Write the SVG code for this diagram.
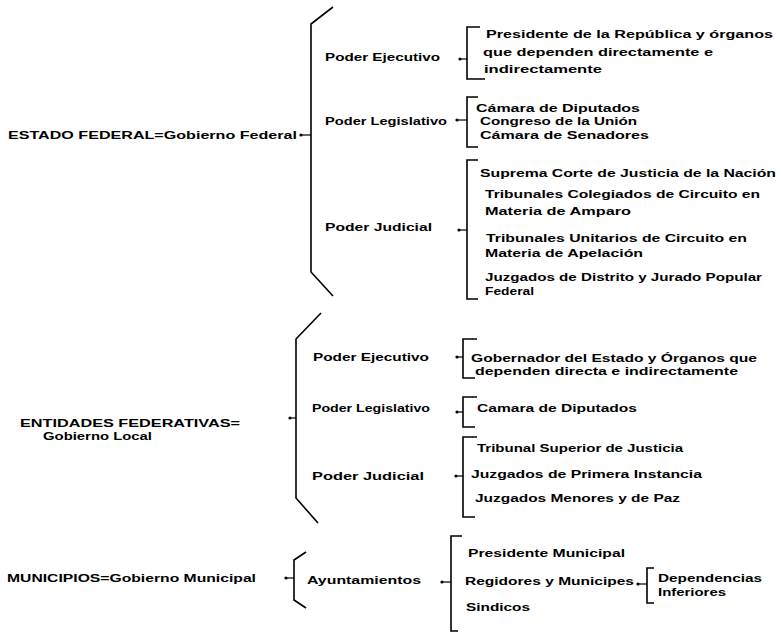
<svg xmlns="http://www.w3.org/2000/svg" width="781" height="635" viewBox="0 0 781 635">
<style>
text{font-family:"Liberation Sans",Arial,sans-serif;font-size:11px;font-weight:bold;fill:#000;}
.br{fill:none;stroke:#000;stroke-width:1.6;stroke-linejoin:miter;}
.ar{stroke:#000;stroke-width:1.2;}
.dot{fill:#000;}
</style>
<rect width="781" height="635" fill="#fff"/>
<g id="connectors">
  <!-- Estado Federal -->
  <polyline class="br" points="333,7 311,24 311,272 333,296"/>
  <line class="ar" x1="301" y1="135" x2="311" y2="135"/><circle class="dot" cx="301" cy="135" r="1.6"/>
  <polyline class="br" points="480,27 467,27 467,79 485,79"/>
  <line class="ar" x1="460" y1="59" x2="467" y2="59"/><circle class="dot" cx="460" cy="59" r="1.6"/>
  <polyline class="br" points="478,97 467,97 467,147 478,147"/>
  <line class="ar" x1="457" y1="120" x2="467" y2="120"/><circle class="dot" cx="457" cy="120" r="1.6"/>
  <polyline class="br" points="478,160 467,160 467,299 478,299"/>
  <line class="ar" x1="459" y1="230" x2="467" y2="230"/><circle class="dot" cx="459" cy="230" r="1.6"/>
  <!-- Entidades -->
  <polyline class="br" points="321,313 296,339 296,498 318,523"/>
  <line class="ar" x1="290" y1="418" x2="296" y2="418"/><circle class="dot" cx="290" cy="418" r="1.6"/>
  <polyline class="br" points="477,339 463,339 463,378 475,378"/>
  <line class="ar" x1="457" y1="357" x2="463" y2="357"/><circle class="dot" cx="457" cy="357" r="1.6"/>
  <polyline class="br" points="477,397 463,397 463,427 475,427"/>
  <line class="ar" x1="457" y1="412" x2="463" y2="412"/><circle class="dot" cx="457" cy="412" r="1.6"/>
  <polyline class="br" points="477,437 463,437 463,517 475,517"/>
  <line class="ar" x1="456" y1="476" x2="463" y2="476"/><circle class="dot" cx="456" cy="476" r="1.6"/>
  <!-- Municipios -->
  <polyline class="br" points="306,552 294,560 294,600 306,608"/>
  <line class="ar" x1="286" y1="578" x2="294" y2="578"/><circle class="dot" cx="286" cy="578" r="1.6"/>
  <polyline class="br" points="462,536 451,536 451,631 458,631"/>
  <line class="ar" x1="442" y1="582" x2="451" y2="582"/><circle class="dot" cx="442" cy="582" r="1.6"/>
  <polyline class="br" points="654,568 647,568 647,603 654,603"/>
  <line class="ar" x1="638" y1="584" x2="647" y2="584"/><circle class="dot" cx="638" cy="584" r="1.6"/>
</g>
<g id="estado-federal"><text x="8" y="139" textLength="289" lengthAdjust="spacingAndGlyphs">ESTADO FEDERAL=Gobierno Federal</text></g>
<g id="fed-ejecutivo"><text x="325" y="61" textLength="115" lengthAdjust="spacingAndGlyphs">Poder Ejecutivo</text></g>
<g id="fed-legislativo"><text x="325" y="125" textLength="122" lengthAdjust="spacingAndGlyphs">Poder Legislativo</text></g>
<g id="fed-judicial"><text x="325" y="231" textLength="107" lengthAdjust="spacingAndGlyphs">Poder  Judicial</text></g>
<g id="fed-ejecutivo-items">
  <text x="486" y="38" textLength="287" lengthAdjust="spacingAndGlyphs">Presidente de la República y órganos</text>
  <text x="483" y="56" textLength="230" lengthAdjust="spacingAndGlyphs">que dependen directamente  e</text>
  <text x="484" y="73" textLength="118" lengthAdjust="spacingAndGlyphs">indirectamente</text>
</g>
<g id="fed-legislativo-items">
  <text x="476" y="112" textLength="164" lengthAdjust="spacingAndGlyphs">Cámara de Diputados</text>
  <text x="480" y="125" textLength="157" lengthAdjust="spacingAndGlyphs">Congreso de la Unión</text>
  <text x="480" y="139" textLength="169" lengthAdjust="spacingAndGlyphs">Cámara de Senadores</text>
</g>
<g id="fed-judicial-items">
  <text x="480" y="177" textLength="296" lengthAdjust="spacingAndGlyphs">Suprema Corte de Justicia de la Nación</text>
  <text x="485" y="198" textLength="275" lengthAdjust="spacingAndGlyphs">Tribunales Colegiados de Circuito en</text>
  <text x="485" y="215" textLength="146" lengthAdjust="spacingAndGlyphs">Materia de Amparo</text>
  <text x="486" y="242" textLength="261" lengthAdjust="spacingAndGlyphs">Tribunales Unitarios de Circuito en</text>
  <text x="485" y="257" textLength="158" lengthAdjust="spacingAndGlyphs">Materia de Apelación</text>
  <text x="485" y="281" textLength="277" lengthAdjust="spacingAndGlyphs">Juzgados de Distrito y Jurado Popular</text>
  <text x="485" y="295" textLength="49" lengthAdjust="spacingAndGlyphs">Federal</text>
</g>
<g id="entidades">
  <text x="20" y="427" textLength="220" lengthAdjust="spacingAndGlyphs">ENTIDADES FEDERATIVAS=</text>
  <text x="43" y="440" textLength="109" lengthAdjust="spacingAndGlyphs">Gobierno Local</text>
</g>
<g id="ent-ejecutivo"><text x="313" y="361" textLength="116" lengthAdjust="spacingAndGlyphs">Poder Ejecutivo</text></g>
<g id="ent-legislativo"><text x="312" y="412" textLength="118" lengthAdjust="spacingAndGlyphs">Poder Legislativo</text></g>
<g id="ent-judicial"><text x="312" y="480" textLength="112" lengthAdjust="spacingAndGlyphs">Poder Judicial</text></g>
<g id="ent-ejecutivo-items">
  <text x="471" y="362" textLength="286" lengthAdjust="spacingAndGlyphs">Gobernador del Estado y Órganos que</text>
  <text x="475" y="375" textLength="263" lengthAdjust="spacingAndGlyphs">dependen directa e indirectamente</text>
</g>
<g id="ent-legislativo-items"><text x="477" y="412" textLength="160" lengthAdjust="spacingAndGlyphs">Camara de Diputados</text></g>
<g id="ent-judicial-items">
  <text x="477" y="452" textLength="206" lengthAdjust="spacingAndGlyphs">Tribunal Superior de Justicia</text>
  <text x="471" y="478" textLength="231" lengthAdjust="spacingAndGlyphs">Juzgados de Primera Instancia</text>
  <text x="475" y="502" textLength="205" lengthAdjust="spacingAndGlyphs">Juzgados Menores y de Paz</text>
</g>
<g id="municipios"><text x="7" y="582" textLength="249" lengthAdjust="spacingAndGlyphs">MUNICIPIOS=Gobierno Municipal</text></g>
<g id="ayuntamientos"><text x="307" y="584" textLength="114" lengthAdjust="spacingAndGlyphs">Ayuntamientos</text></g>
<g id="ayuntamientos-items">
  <text x="468" y="557" textLength="157" lengthAdjust="spacingAndGlyphs">Presidente Municipal</text>
  <text x="465" y="585" textLength="169" lengthAdjust="spacingAndGlyphs">Regidores y Municipes</text>
  <text x="466" y="611" textLength="64" lengthAdjust="spacingAndGlyphs">Sindicos</text>
</g>
<g id="dependencias">
  <text x="658" y="582" textLength="104" lengthAdjust="spacingAndGlyphs">Dependencias</text>
  <text x="658" y="596" textLength="68" lengthAdjust="spacingAndGlyphs">Inferiores</text>
</g>
</svg>
